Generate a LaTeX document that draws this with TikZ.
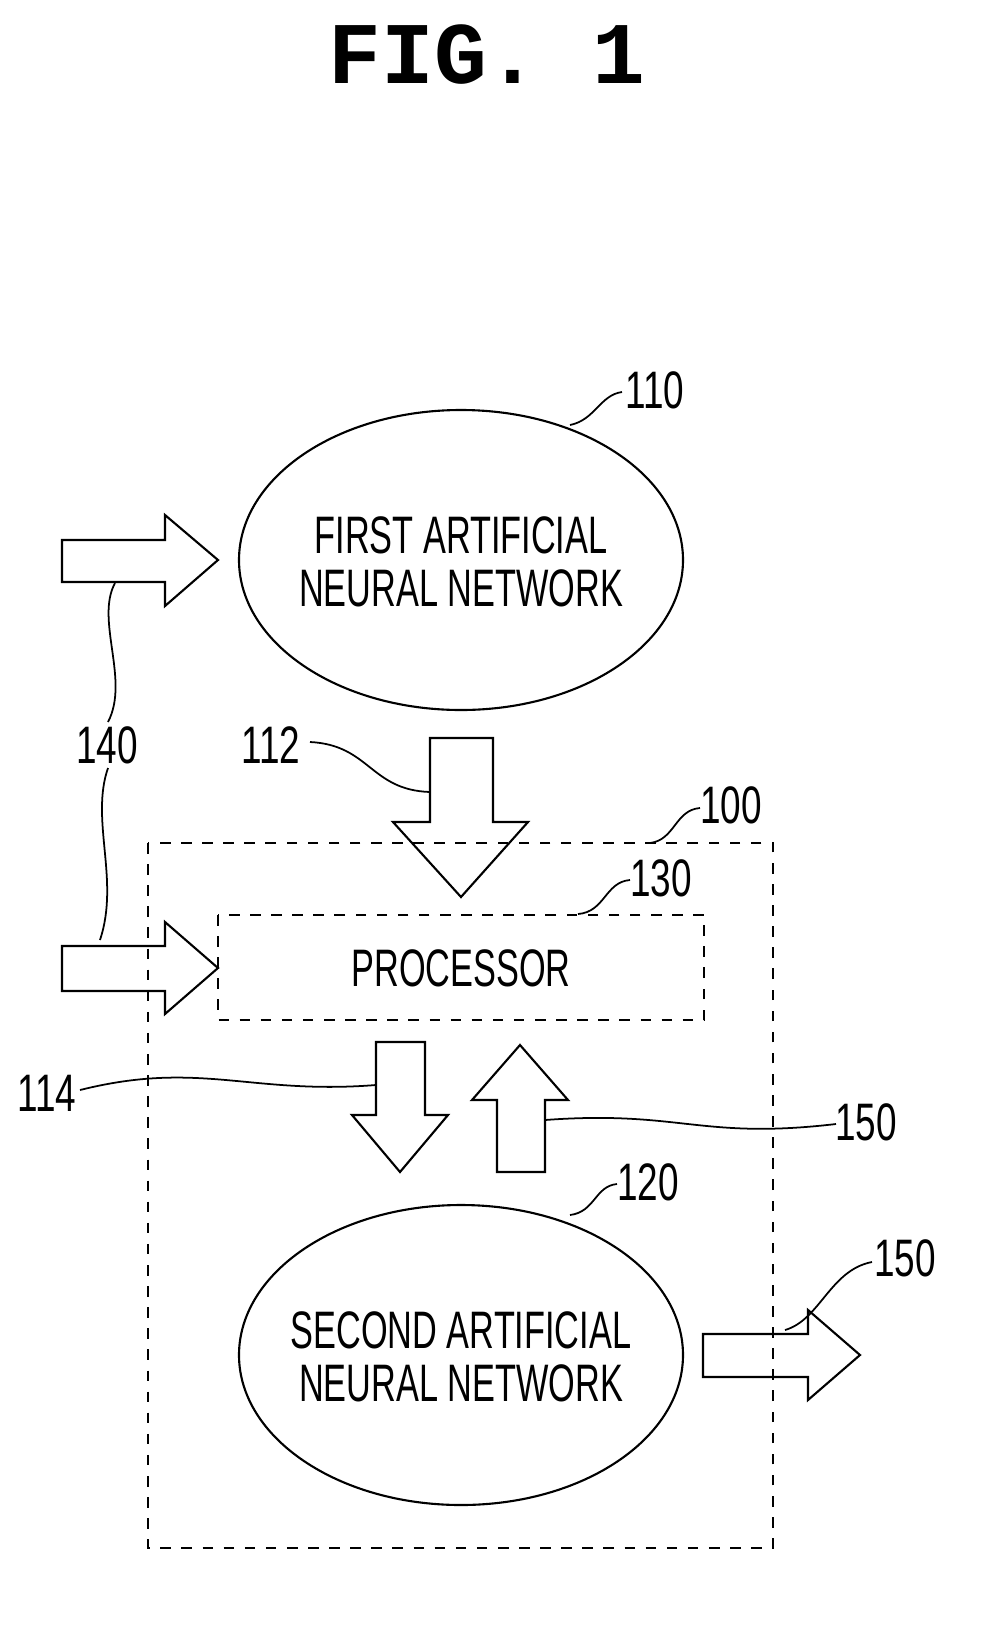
\documentclass[tikz,border=0pt]{standalone}
\usepackage{fontspec}
\setmainfont{Liberation Sans}
\newfontfamily\titlefont{Liberation Mono}
\begin{document}
\begin{tikzpicture}[x=0.01cm,y=-0.01cm,
    blk/.style={draw,line width=0.6pt},
    box/.style={draw,dashed,line width=0.5pt},
    leader/.style={line width=0.5pt},
    lab/.style={font=\fontsize{15}{16}\selectfont,xscale=0.7,inner sep=0pt},
    txt/.style={font=\fontsize{15}{15.2}\selectfont,xscale=0.65,align=center,inner sep=0pt}]
    \useasboundingbox (0,0) rectangle (994,1636);

    \node (title) at (487,55) {\titlefont\bfseries\fontsize{25}{28}\selectfont FIG. 1};

    % networks
    \draw[blk] (461,560) ellipse (222 and 150);
    \node[txt] (first) at (461,562) {FIRST ARTIFICIAL\\NEURAL NETWORK};
    \draw[blk] (461,1355) ellipse (222 and 150);
    \node[txt] (second) at (461,1357) {SECOND ARTIFICIAL\\NEURAL NETWORK};

    % boxes
    \draw[box] (148,843) rectangle (773,1548);
    \draw[box] (218,915) rectangle (704,1020);
    \node[txt] (proc) at (461,968) {PROCESSOR};

    % block arrows
    \draw[blk] (62,540) -- (165,540) -- (165,515) -- (218,560) -- (165,606) -- (165,582) -- (62,582) -- cycle;
    \draw[blk] (62,946) -- (165,946) -- (165,922) -- (218,968) -- (165,1014) -- (165,991) -- (62,991) -- cycle;
    \draw[blk] (430,738) -- (493,738) -- (493,822) -- (528,822) -- (461,897) -- (393,822) -- (430,822) -- cycle;
    \draw[blk] (376,1042) -- (425,1042) -- (425,1115) -- (448,1115) -- (400,1172) -- (352,1115) -- (376,1115) -- cycle;
    \draw[blk] (497,1172) -- (545,1172) -- (545,1100) -- (568,1100) -- (520,1045) -- (472,1100) -- (497,1100) -- cycle;
    \draw[blk] (703,1334) -- (808,1334) -- (808,1310) -- (860,1355) -- (808,1400) -- (808,1377) -- (703,1377) -- cycle;

    % labels
    \node[lab] (l110) at (655,390) {110};
    \node[lab] (l140) at (107,745) {140};
    \node[lab] (l112) at (271,745) {112};
    \node[lab] (l100) at (731,805) {100};
    \node[lab] (l130) at (661,878) {130};
    \node[lab] (l114) at (47,1093) {114};
    \node[lab] (l150a) at (866,1122) {150};
    \node[lab] (l120) at (648,1182) {120};
    \node[lab] (l150b) at (905,1258) {150};

    % leaders
    \draw[leader] (570,425) .. controls (595,420) and (600,395) .. (622,392);
    \draw[leader] (115,583) .. controls (95,620) and (130,680) .. (108,722);
    \draw[leader] (108,768) .. controls (90,820) and (120,880) .. (100,940);
    \draw[leader] (310,742) .. controls (370,745) and (370,790) .. (430,792);
    \draw[leader] (650,843) .. controls (675,840) and (675,810) .. (700,808);
    \draw[leader] (578,914) .. controls (605,912) and (605,882) .. (630,880);
    \draw[leader] (80,1090) .. controls (200,1060) and (250,1095) .. (376,1085);
    \draw[leader] (545,1120) .. controls (680,1110) and (700,1140) .. (836,1124);
    \draw[leader] (570,1215) .. controls (595,1212) and (595,1186) .. (617,1184);
    \draw[leader] (785,1330) .. controls (820,1320) and (830,1270) .. (872,1262);
\end{tikzpicture}
\end{document}
